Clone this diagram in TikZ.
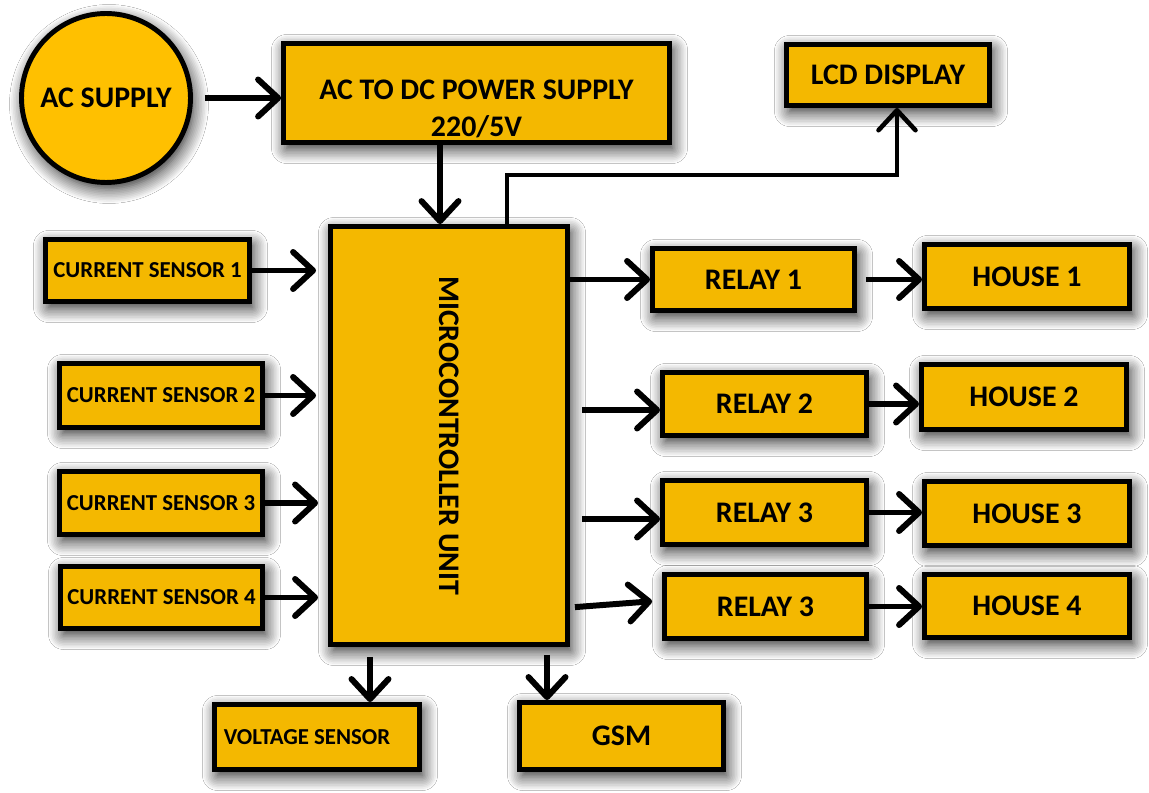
\documentclass[tikz,border=0pt]{standalone}
\usepackage{fontspec}
\setmainfont{Carlito}
\usepackage{graphicx}
\usepackage{tikz}
\usetikzlibrary{arrows.meta, shadows.blur}
\definecolor{camarillo}{HTML}{F4B800}
\definecolor{ccirculo}{HTML}{FFC000}
\tikzset{
  bloque/.style={rectangle, draw=black, fill=camarillo, line width=2.8pt, align=center, inner sep=0pt,
                 font=\fontsize{17}{21}\selectfont\bfseries,
                 blur shadow={shadow xshift=0.06cm, shadow yshift=-0.12cm, shadow blur radius=0.3cm,
                              shadow blur steps=10, shadow opacity=90}},
  sensor/.style={bloque, font=\fontsize{13}{16}\selectfont\bfseries},
  fuente/.style={bloque, circle, fill=ccirculo},
  flecha/.style={-{Straight Barb[length=0.4cm, width=0.74cm, round]}, line width=3.4pt, draw=black},
}

\begin{document}
\begin{tikzpicture}[x=0.02cm, y=-0.02cm]
        \useasboundingbox (0,0) rectangle (1149,793);
        \fill[white] (0,0) rectangle (1149,793);
        % alimentacion
        \node[fuente, minimum size=3.38cm] (ac) at (106,98) {AC SUPPLY};
        \node[bloque, minimum width=7.72cm, minimum height=1.98cm,
              label={[font=\fontsize{17}{21.5}\selectfont\bfseries, align=center, yshift=-0.32cm]center:AC TO DC POWER SUPPLY\\220/5V}] (acdc) at (476.5,93) {};
        \node[bloque, minimum width=4.06cm, minimum height=1.22cm] (lcd) at (888,75) {LCD DISPLAY};
        \node[bloque, minimum width=4.74cm, minimum height=8.36cm] (mcu) at (449,435.5) {\rotatebox{-90}{MICROCONTROLLER UNIT}};
        % sensores
        \node[sensor, minimum width=4.08cm, minimum height=1.24cm] (cs1) at (147.5,270.5) {CURRENT SENSOR 1};
        \node[sensor, minimum width=4.06cm, minimum height=1.28cm] (cs2) at (161,395.5) {CURRENT SENSOR 2};
        \node[sensor, minimum width=4.06cm, minimum height=1.26cm] (cs3) at (161,503) {CURRENT SENSOR 3};
        \node[sensor, minimum width=4.04cm, minimum height=1.24cm] (cs4) at (161.5,597.5) {CURRENT SENSOR 4};
        % reles y casas
        \node[bloque, minimum width=4.04cm, minimum height=1.24cm] (r1) at (753.5,279.5) {RELAY 1};
        \node[bloque, minimum width=4.08cm, minimum height=1.26cm] (r2) at (764.5,404) {RELAY 2};
        \node[bloque, minimum width=4.08cm, minimum height=1.28cm] (r3) at (764.5,512.5) {RELAY 3};
        \node[bloque, minimum width=4.04cm, minimum height=1.28cm] (r4) at (765.5,606.5) {RELAY 3};
        \node[bloque, minimum width=4.1cm, minimum height=1.28cm] (h1) at (1027,276.5) {HOUSE 1};
        \node[bloque, minimum width=4.1cm, minimum height=1.3cm] (h2) at (1024,397) {HOUSE 2};
        \node[bloque, minimum width=4.1cm, minimum height=1.28cm] (h3) at (1027,513.5) {HOUSE 3};
        \node[bloque, minimum width=4.1cm, minimum height=1.26cm] (h4) at (1027,606) {HOUSE 4};
        % salidas inferiores
        \node[sensor, minimum width=4.1cm, minimum height=1.3cm] (vs) at (317,737) {\hspace*{-0.4cm}VOLTAGE SENSOR};
        \node[bloque, minimum width=4.08cm, minimum height=1.34cm] (gsm) at (621.5,736) {GSM};
        % conexiones
        \draw[flecha, shorten <=0.24cm] (ac.east) -- (ac.east -| acdc.west);
        \draw[flecha] ([xshift=-0.73cm]acdc.south) -- ([xshift=-0.73cm]acdc.south |- mcu.north);
        \draw[flecha, line width=2.6pt] ([xshift=1.16cm]mcu.north) -- ++(0,-49) -| ([xshift=0.18cm]lcd.south);
        \draw[flecha, shorten >=0.24cm] (cs1.east) -- (cs1.east -| mcu.west);
        \draw[flecha, shorten >=0.24cm] (cs2.east) -- (cs2.east -| mcu.west);
        \draw[flecha, shorten >=0.2cm] (cs3.east) -- (cs3.east -| mcu.west);
        \draw[flecha, shorten >=0.2cm] (cs4.east) -- (cs4.east -| mcu.west);
        \draw[flecha] (r1.west -| mcu.east) -- (r1.west);
        \draw[flecha, shorten <=0.24cm] ([yshift=-0.12cm]r2.west -| mcu.east) -- ([yshift=-0.12cm]r2.west);
        \draw[flecha, shorten <=0.24cm] ([yshift=-0.13cm]r3.west -| mcu.east) -- ([yshift=-0.13cm]r3.west);
        \draw[flecha, shorten <=0.1cm, shorten >=0.2cm] ([yshift=-0.02cm]r4.west -| mcu.east) -- ([yshift=0.12cm]r4.west);
        \draw[flecha, shorten <=0.18cm] (r1.east) -- (r1.east -| h1.west);
        \draw[flecha] (r2.east) -- (r2.east -| h2.west); \draw[flecha] (r3.east) -- (r3.east -| h3.west);
        \draw[flecha] (r4.east) -- (r4.east -| h4.west);
        \draw[flecha, shorten <=0.2cm] ([xshift=1.06cm]vs.north |- mcu.south) -- ([xshift=1.06cm]vs.north);
        \draw[flecha, shorten <=0.16cm] ([xshift=-1.49cm]gsm.north |- mcu.south) -- ([xshift=-1.49cm]gsm.north);
    \end{tikzpicture}
\end{document}
